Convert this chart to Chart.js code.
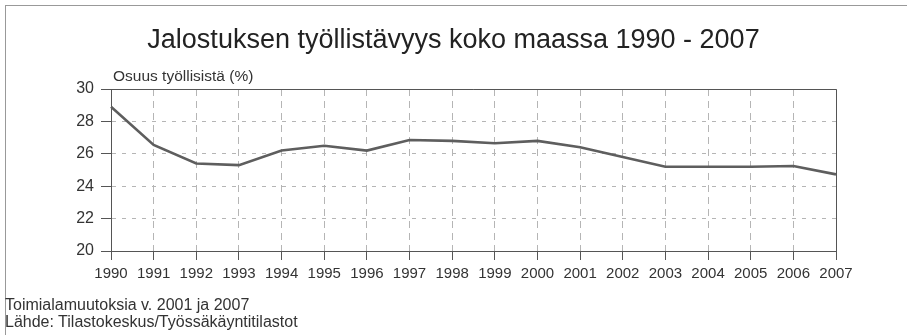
<!DOCTYPE html>
<html>
<head>
<meta charset="utf-8">
<script src="https://cdn.jsdelivr.net/npm/chart.js@4.4.1/dist/chart.umd.min.js"></script>
<style>
  html, body { margin: 0; padding: 0; background: #fff; }
  #wrap { position: relative; width: 907px; height: 335px; overflow: hidden; }
  #frame { position: absolute; left: 5px; top: 5px; width: 910px; height: 340px;
           border-left: 1px solid #999; border-top: 1px solid #999; }
  canvas { position: absolute; left: 0; top: 0; }
  .title { position: absolute; left: 0; width: 907px; top: 24px; text-align: center;
           font: 27px "Liberation Sans", Arial, sans-serif; color: #222; }
  .note { position: absolute; left: 5px; font: 16px "Liberation Sans", Arial, sans-serif; color: #333; }
</style>
</head>
<body>
<div id="wrap">
  <div id="frame"></div>
  <canvas id="chart" width="907" height="335"></canvas>
  <div class="title">Jalostuksen työllistävyys koko maassa 1990 - 2007</div>
  <div class="note" style="top:296px">Toimialamuutoksia v. 2001 ja 2007</div>
  <div class="note" style="top:313px">Lähde: Tilastokeskus/Työssäkäyntitilastot</div>
</div>
<script>
const years = ["1990", "1991", "1992", "1993", "1994", "1995", "1996", "1997", "1998",
  "1999", "2000", "2001", "2002", "2003", "2004", "2005", "2006", "2007"];
const share = [28.9, 26.55, 25.4, 25.3, 26.2, 26.5, 26.2, 26.85, 26.8,
  26.65, 26.8, 26.4, 25.8, 25.2, 25.2, 25.2, 25.25, 24.73];
const yTicks = [20, 22, 24, 26, 28, 30];

const yCaption = "Osuus työllisistä (%)";

const font = "'Liberation Sans', Arial, sans-serif";

// caption above the plot plus the solid frame on top/right
const extras = {
  id: "extras",
  afterDraw(chart) {
    const { ctx, chartArea: a } = chart;
    ctx.save();
    ctx.setLineDash([]);
    ctx.strokeStyle = "#555";
    ctx.lineWidth = 1;
    ctx.beginPath();
    ctx.moveTo(a.left, a.top + 0.5);
    ctx.lineTo(a.right + 0.5, a.top + 0.5);
    ctx.lineTo(a.right + 0.5, a.bottom);
    ctx.stroke();
    ctx.fillStyle = "#333";
    ctx.font = "15.5px " + font;
    ctx.textBaseline = "alphabetic";
    ctx.fillText(yCaption, a.left + 2, a.top - 8);
    ctx.restore();
  }
};

new Chart(document.getElementById("chart"), {
  type: "line",
  data: {
    labels: years,
    datasets: [{
      data: share,
      borderColor: "#5e5e5e",
      borderWidth: 2.6,
      pointRadius: 0,
      tension: 0,
      fill: false
    }]
  },
  options: {
    responsive: false,
    animation: false,
    layout: { padding: { left: 0, right: 71, top: 89, bottom: 0 } },
    plugins: {
      legend: { display: false },
      tooltip: { enabled: false }
    },
    scales: {
      x: {
        offset: false,
        afterFit(scale) { scale.height = 84; },
        grid: {
          color: "#b5b5b5",
          tickColor: "#555",
          tickLength: 9
        },
        border: { color: "#555", width: 1, dash: [7, 5] },
        ticks: { color: "#333", font: { family: font, size: 15 }, padding: 5, maxRotation: 0, autoSkip: false }
      },
      y: {
        min: 20,
        max: 30,
        afterFit(scale) { scale.width = 111; },
        afterBuildTicks(scale) { scale.ticks = yTicks.map(v => ({ value: v })); },
        grid: {
          color: "#b5b5b5",
          tickColor: "#555",
          tickLength: 10
        },
        border: { color: "#555", width: 1, dash: [4, 6] },
        ticks: { color: "#333", font: { family: font, size: 16 }, padding: 7 }
      }
    }
  },
  plugins: [extras]
});
</script>
</body>
</html>
